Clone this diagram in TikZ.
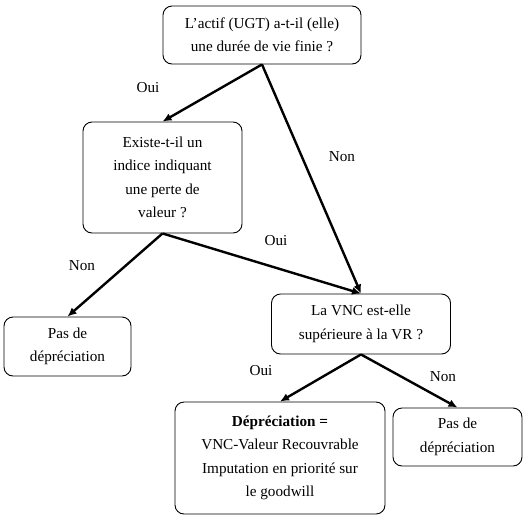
\documentclass[tikz,border=0pt]{standalone}
\usepackage{fontspec}
\setmainfont{Liberation Serif}
\usepackage{tikz}
\usetikzlibrary{positioning}
\usetikzlibrary{shapes,arrows,arrows.meta,calc}

\begin{document}
\begin{tikzpicture}[>={Latex[length=9pt,width=8pt]},x=1pt,y=-1pt,
  box/.style={draw,rectangle,rounded corners=9pt,line width=0.9pt,align=center,
    inner sep=0pt,font=\fontsize{15.2}{23.5}\selectfont},
  branch/.style={->,line width=2.4pt},
  lbl/.style={font=\fontsize{15.2}{16}\selectfont}]
\useasboundingbox (0,0) rectangle (530,528);

% the question boxes
\node[box,minimum width=198pt,minimum height=58pt] (vie) at (262,35)
  {L'actif (UGT) a-t-il (elle)\\une durée de vie finie ?};
\node[box,minimum width=159pt,minimum height=111pt] (indice) at (162.5,177.5)
  {Existe-t-il un\\indice indiquant\\une perte de\\valeur ?};
\node[box,minimum width=179pt,minimum height=60pt] (vnc) at (361,324)
  {La VNC est-elle\\supérieure à la VR ?};

% the outcome boxes
\node[box,minimum width=127pt,minimum height=59pt] (pas1) at (67.5,346.5)
  {Pas de\\dépréciation};
\node[box,minimum width=210pt,minimum height=112pt] (dep) at (280,458)
  {\textbf{Dépréciation =}\\VNC-Valeur Recouvrable\\Imputation en priorité sur\\le goodwill};
\node[box,minimum width=129pt,minimum height=58pt] (pas2) at (457.5,437)
  {Pas de\\dépréciation};

% the arrows and labels
\draw[branch] (vie.south) -- (indice.north);
\draw[branch] (vie.south) -- (vnc.north);
\draw[branch] (indice.south) -- (pas1.north);
\draw[branch] (indice.south) -- (vnc.north);
\draw[branch] (vnc.south) -- (dep.north);
\draw[branch] (vnc.south) -- (pas2.north);
\node[lbl] (oui1) at (148,88) {Oui};
\node[lbl] (non1) at (342,157) {Non};
\node[lbl] (oui2) at (276,241) {Oui};
\node[lbl] (non2) at (82,266) {Non};
\node[lbl] (oui3) at (261,371) {Oui};
\node[lbl] (non3) at (443,377) {Non};
\end{tikzpicture}
\end{document}
